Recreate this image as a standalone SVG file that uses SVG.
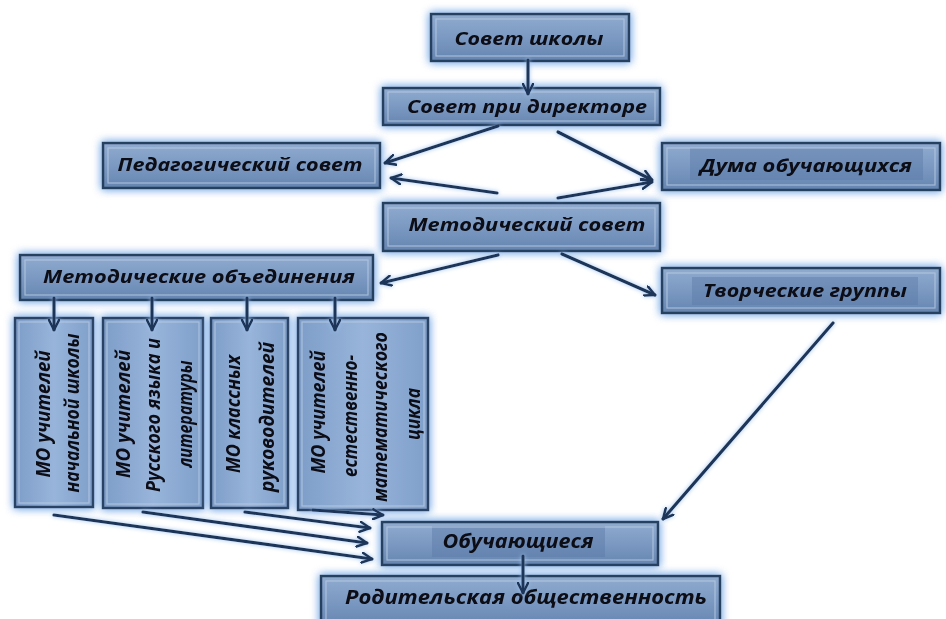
<svg xmlns="http://www.w3.org/2000/svg" width="946" height="619" viewBox="0 0 946 619">
<style>
.box{fill:url(#gb);stroke:#283f61;stroke-width:2.5}
.vbox{fill:url(#gv);stroke:#2b4264;stroke-width:2.5}
.inner{fill:none;stroke:#b9cbe3;stroke-width:1.2;opacity:.75}
.band{fill:#5b7ba6;opacity:.45}
.t{font-family:"Open Sans","Noto Sans","DejaVu Sans",sans-serif;font-weight:bold;font-style:italic;font-size:18px;fill:#0a0a14;text-anchor:middle}
.tv{font-family:"Liberation Sans Narrow","Open Sans","Noto Sans",sans-serif;font-weight:bold;font-style:italic;font-size:20px;fill:#0a0a14;text-anchor:middle}
.c{fill:none;stroke:#1e3658;stroke-width:3.2;stroke-linecap:round;marker-end:url(#ah)}
</style>
<defs>
<linearGradient id="gb" x1="0" y1="0" x2="0" y2="1">
<stop offset="0" stop-color="#90abcf"/>
<stop offset="0.5" stop-color="#7b99c2"/>
<stop offset="1" stop-color="#6585b0"/>
</linearGradient>
<linearGradient id="gv" x1="0" y1="0" x2="1" y2="0">
<stop offset="0" stop-color="#7d9dc8"/>
<stop offset="0.5" stop-color="#98b4da"/>
<stop offset="1" stop-color="#7f9fca"/>
</linearGradient>
<filter id="glow" x="-20%" y="-40%" width="140%" height="180%">
<feGaussianBlur in="SourceAlpha" stdDeviation="4" result="b"/>
<feFlood flood-color="#8fb8ea" result="f"/>
<feComposite in="f" in2="b" operator="in" result="g"/>
<feMerge><feMergeNode in="g"/><feMergeNode in="g"/><feMergeNode in="SourceGraphic"/></feMerge>
</filter>
<filter id="aglow" x="-20%" y="-20%" width="140%" height="140%">
<feGaussianBlur in="SourceAlpha" stdDeviation="2.2" result="b"/>
<feFlood flood-color="#9cc2ef" result="f"/>
<feComposite in="f" in2="b" operator="in" result="g"/>
<feMerge><feMergeNode in="g"/><feMergeNode in="SourceGraphic"/></feMerge>
</filter>
<marker id="ah" viewBox="0 0 12 12" refX="11" refY="6" markerWidth="12" markerHeight="12" markerUnits="userSpaceOnUse" orient="auto">
<path d="M1,1 L11,6 L1,11" fill="none" stroke="#1e3658" stroke-width="2.6" stroke-linecap="round" stroke-linejoin="round"/>
</marker>
</defs>
<rect width="946" height="619" fill="#ffffff"/>

<g id="n-sovet-shkoly" filter="url(#glow)">
<rect class="box" x="431" y="14" width="198" height="47"/>
<rect class="inner" x="436" y="19" width="188" height="37"/>
<text class="t" x="529" y="45" textLength="149" lengthAdjust="spacingAndGlyphs">Совет школы</text>
</g>

<g id="n-sovet-dir" filter="url(#glow)">
<rect class="box" x="383" y="88" width="277" height="37"/>
<rect class="inner" x="388" y="92" width="267" height="29"/>
<text class="t" x="527" y="113" textLength="240" lengthAdjust="spacingAndGlyphs">Совет при директоре</text>
</g>

<g id="n-ped" filter="url(#glow)">
<rect class="box" x="103" y="143" width="277" height="45"/>
<rect class="inner" x="108" y="148" width="267" height="35"/>
<text class="t" x="240" y="171" textLength="245" lengthAdjust="spacingAndGlyphs">Педагогический совет</text>
</g>

<g id="n-duma" filter="url(#glow)">
<rect class="box" x="662" y="143" width="278" height="47"/>
<rect class="band" x="690" y="148" width="233" height="32"/>
<rect class="inner" x="667" y="148" width="268" height="37"/>
<text class="t" x="806" y="172" textLength="212" lengthAdjust="spacingAndGlyphs">Дума обучающихся</text>
</g>

<g id="n-met-sovet" filter="url(#glow)">
<rect class="box" x="383" y="203" width="277" height="48"/>
<rect class="inner" x="388" y="208" width="267" height="38"/>
<text class="t" x="527" y="231" textLength="237" lengthAdjust="spacingAndGlyphs">Методический совет</text>
</g>

<g id="n-met-ob" filter="url(#glow)">
<rect class="box" x="20" y="255" width="353" height="45"/>
<rect class="inner" x="25" y="260" width="343" height="35"/>
<text class="t" x="199" y="283" textLength="312" lengthAdjust="spacingAndGlyphs">Методические объединения</text>
</g>

<g id="n-tvorch" filter="url(#glow)">
<rect class="box" x="662" y="268" width="278" height="45"/>
<rect class="band" x="692" y="277" width="226" height="28"/>
<rect class="inner" x="667" y="273" width="268" height="35"/>
<text class="t" x="805" y="297" textLength="204" lengthAdjust="spacingAndGlyphs">Творческие группы</text>
</g>

<g id="n-mo1" filter="url(#glow)">
<rect class="vbox" x="15" y="318" width="78" height="189"/>
<rect class="inner" x="19" y="322" width="70" height="181"/>
<text class="tv" transform="translate(50,414) rotate(-90)" textLength="127" lengthAdjust="spacingAndGlyphs">МО учителей</text>
<text class="tv" transform="translate(79,413) rotate(-90)" textLength="159" lengthAdjust="spacingAndGlyphs">начальной школы</text>
</g>

<g id="n-mo2" filter="url(#glow)">
<rect class="vbox" x="103" y="318" width="100" height="190"/>
<rect class="inner" x="107" y="322" width="92" height="182"/>
<text class="tv" transform="translate(130,414) rotate(-90)" textLength="128" lengthAdjust="spacingAndGlyphs">МО учителей</text>
<text class="tv" transform="translate(160,415) rotate(-90)" textLength="154" lengthAdjust="spacingAndGlyphs">Русского языка и</text>
<text class="tv" transform="translate(192,414) rotate(-90)" textLength="107" lengthAdjust="spacingAndGlyphs">литературы</text>
</g>

<g id="n-mo3" filter="url(#glow)">
<rect class="vbox" x="211" y="318" width="77" height="190"/>
<rect class="inner" x="215" y="322" width="69" height="182"/>
<text class="tv" transform="translate(240,414) rotate(-90)" textLength="118" lengthAdjust="spacingAndGlyphs">МО классных</text>
<text class="tv" transform="translate(274,417) rotate(-90)" textLength="150" lengthAdjust="spacingAndGlyphs">руководителей</text>
</g>

<g id="n-mo4" filter="url(#glow)">
<rect class="vbox" x="298" y="318" width="130" height="192"/>
<rect class="inner" x="302" y="322" width="122" height="184"/>
<text class="tv" transform="translate(325,412) rotate(-90)" textLength="123" lengthAdjust="spacingAndGlyphs">МО учителей</text>
<text class="tv" transform="translate(357,416) rotate(-90)" textLength="122" lengthAdjust="spacingAndGlyphs">естественно-</text>
<text class="tv" transform="translate(387,417) rotate(-90)" textLength="170" lengthAdjust="spacingAndGlyphs">математического</text>
<text class="tv" transform="translate(420,414) rotate(-90)" textLength="52" lengthAdjust="spacingAndGlyphs">цикла</text>
</g>

<g id="n-obuch" filter="url(#glow)">
<rect class="box" x="382" y="522" width="276" height="43"/>
<rect class="band" x="432" y="526" width="173" height="31"/>
<rect class="inner" x="387" y="527" width="266" height="33"/>
<text class="tv" x="518" y="548" textLength="151" lengthAdjust="spacingAndGlyphs">Обучающиеся</text>
</g>

<g id="n-rod" filter="url(#glow)">
<rect class="box" x="321" y="576" width="399" height="50"/>
<rect class="inner" x="326" y="581" width="389" height="40"/>
<text class="tv" x="526" y="604" textLength="362" lengthAdjust="spacingAndGlyphs">Родительская  общественность</text>
</g>

<g id="connectors" filter="url(#aglow)">
<line class="c" x1="528" y1="60" x2="528" y2="94"/>
<line class="c" x1="498" y1="126" x2="385" y2="163"/>
<line class="c" x1="497" y1="193" x2="391" y2="178"/>
<line class="c" x1="558" y1="132" x2="652" y2="180"/>
<line class="c" x1="558" y1="198" x2="652" y2="182"/>
<line class="c" x1="498" y1="255" x2="381" y2="283"/>
<line class="c" x1="562" y1="254" x2="655" y2="295"/>
<line class="c" x1="54" y1="298" x2="54" y2="330"/>
<line class="c" x1="152" y1="298" x2="152" y2="330"/>
<line class="c" x1="247" y1="298" x2="247" y2="330"/>
<line class="c" x1="335" y1="298" x2="335" y2="330"/>
<line class="c" x1="833" y1="323" x2="663" y2="519"/>
<line class="c" x1="54" y1="515" x2="372" y2="559"/>
<line class="c" x1="143" y1="512" x2="367" y2="543"/>
<line class="c" x1="245" y1="512" x2="370" y2="528"/>
<line class="c" x1="313" y1="510" x2="383" y2="515"/>
<line class="c" x1="523" y1="556" x2="523" y2="593"/>
</g>
</svg>
